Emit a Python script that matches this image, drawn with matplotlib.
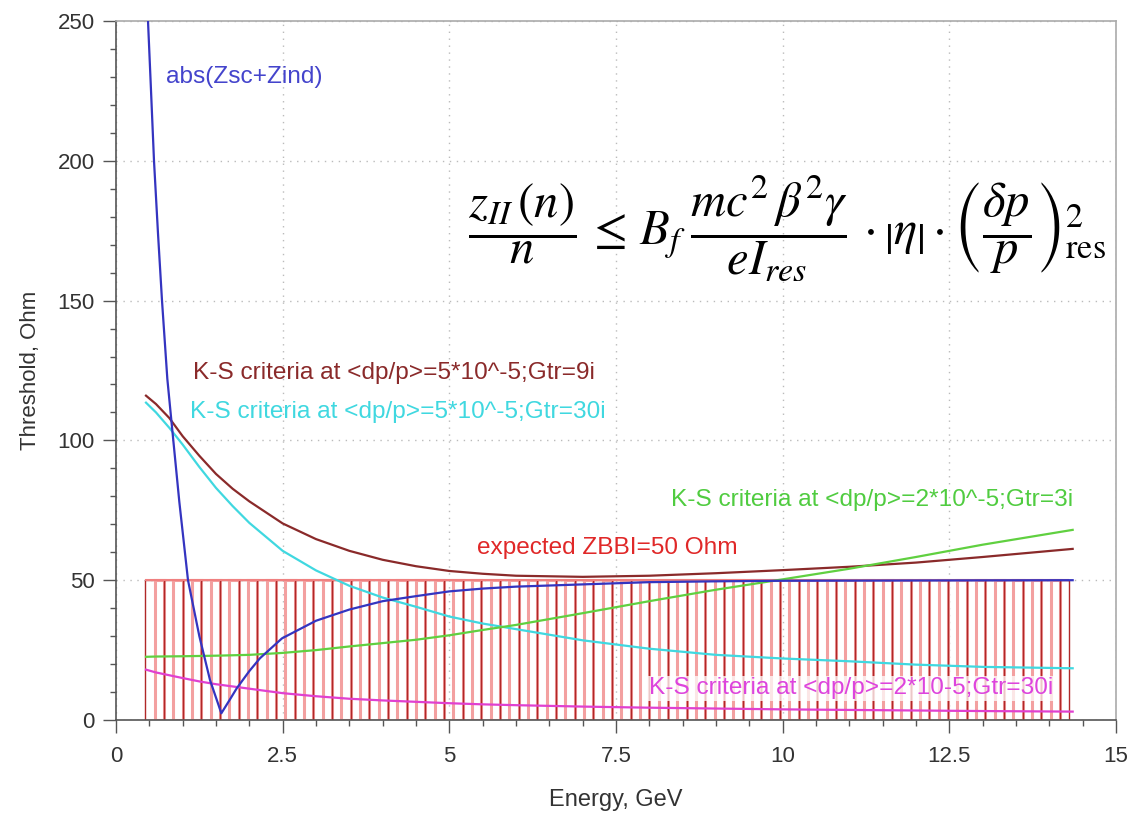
import numpy as np
import matplotlib
matplotlib.use("Agg")
import matplotlib.pyplot as plt

# ---------------- data ----------------
energy = [0.45, 0.6, 0.8, 1.0, 1.25, 1.5, 1.75, 2.0, 2.5, 3.0, 3.5, 4.0, 4.5,
          5.0, 5.5, 6.0, 7.0, 8.0, 9.0, 10.0, 11.0, 12.0, 13.0, 14.35]
ks_5e5_9i = [116, 113, 108, 101.5, 94.5, 88, 82.7, 78.2, 70.3, 64.7, 60.5, 57.3, 55,
             53.3, 52.3, 51.6, 51.2, 51.6, 52.5, 53.6, 54.8, 56.3, 58.3, 61.2]
ks_5e5_30i = [113.5, 110, 104.5, 98.5, 90.5, 83, 76.5, 70.5, 60.5, 53.5, 48, 43.8, 40.5,
              37, 34.5, 32.5, 28.5, 25.5, 23.3, 22.0, 21.0, 19.8, 19.0, 18.5]
ks_2e5_3i = [22.6, 22.7, 22.75, 22.8, 22.9, 23.0, 23.15, 23.3, 24.0, 25.0, 26.3, 27.5, 28.7,
             30.3, 32.2, 34.0, 38.2, 42.5, 46.6, 50.3, 54.1, 58.3, 62.7, 68.0]
ks_2e5_30i = [18.0, 17.0, 16.0, 15.0, 13.8, 12.8, 12.0, 11.2, 9.6, 8.5, 7.6, 7.0, 6.5,
              6.0, 5.6, 5.3, 4.8, 4.4, 4.1, 3.8, 3.6, 3.4, 3.2, 3.0]

energy_z = [0.45, 0.48, 0.52, 0.57, 0.63, 0.69, 0.77, 0.835, 0.95, 1.08, 1.25, 1.41,
            1.58, 1.7, 1.81, 2.0, 2.16, 2.49, 3.0, 3.5, 4.0, 4.5, 5.0, 5.5, 6.0,
            7.0, 8.0, 9.0, 10.0, 12.0, 14.35]
abs_zsc_zind = [272, 250, 228, 200, 174, 150, 122, 106, 78, 50, 30, 14.3,
                2.4, 7.0, 11.3, 17.5, 22.1, 29.2, 35.5, 39.5, 42.5, 44.3, 46.0, 47.0, 47.7,
                48.5, 49.3, 49.6, 49.8, 49.9, 50.0]

# expected broadband impedance: 99 bars of 50 Ohm from 0.44 to 14.3 GeV
bar_start, bar_stop, n_bars = 0.44, 14.30, 99
expected_zbbi = 50

x_ticks = [0, 2.5, 5, 7.5, 10, 12.5, 15]
x_tick_labels = ["0", "2.5", "5", "7.5", "10", "12.5", "15"]
y_ticks = [0, 50, 100, 150, 200, 250]
y_tick_labels = ["0", "50", "100", "150", "200", "250"]

# ---------------- plot ----------------
plt.rcParams['font.family'] = ['Liberation Sans', 'DejaVu Sans']
plt.rcParams['mathtext.fontset'] = 'stix'

fig = plt.figure(figsize=(11.29, 8.15), dpi=100)
ax = fig.add_axes([116/1129, 1 - 720/815, 1000/1129, 699/815])

ax.set_xlim(0, 15)
ax.set_ylim(0, 250)

# bars
edges = np.linspace(bar_start, bar_stop, n_bars + 1)
bar_left = edges[:-1]
width = edges[1] - edges[0]
edge_cols = ['#b02828' if i % 2 == 0 else '#f3a0a0' for i in range(n_bars)]
edge_lw = [1.0 if i % 2 == 0 else 2.2 for i in range(n_bars)]
ax.bar(bar_left, [expected_zbbi] * n_bars, width=width, align='edge', fill=False,
       edgecolor=edge_cols, linewidth=edge_lw, zorder=2)
ax.hlines(expected_zbbi, bar_start, bar_stop, colors='#f08080', linewidth=1.5, zorder=2)

# curves
ax.plot(energy, ks_5e5_9i, color='#8a2a2a', lw=1.6, zorder=3)
ax.plot(energy, ks_5e5_30i, color='#40d8e0', lw=1.6, zorder=3)
ax.plot(energy, ks_2e5_3i, color='#60d040', lw=1.6, zorder=3)
ax.plot(energy, ks_2e5_30i, color='#e040d0', lw=1.6, zorder=3)
ax.plot(energy_z, abs_zsc_zind, color='#3434c0', lw=1.6, zorder=4, clip_on=True)

# texts
fs = 17.6
ax.text(0.75, 230, "abs(Zsc+Zind)", color='#4444cc', fontsize=fs, va='center', ha='left')
ax.text(1.16, 124, "K-S criteria at <dp/p>=5*10^-5;Gtr=9i", color='#8a2a2a',
        fontsize=fs, va='center', ha='left')
ax.text(1.11, 110.3, "K-S criteria at <dp/p>=5*10^-5;Gtr=30i", color='#40d8e0',
        fontsize=fs, va='center', ha='left')
ax.text(8.33, 78.7, "K-S criteria at <dp/p>=2*10^-5;Gtr=3i", color='#50cc40',
        fontsize=fs, va='center', ha='left')
ax.text(5.42, 61.5, "expected ZBBI=50 Ohm", color='#e02828',
        fontsize=fs, va='center', ha='left')
ax.text(8.0, 11.4, "K-S criteria at <dp/p>=2*10-5;Gtr=30i", color='#dd44dd',
        fontsize=fs, va='center', ha='left', zorder=5,
        bbox=dict(facecolor='white', edgecolor='none', alpha=0.75, pad=1))

eq = (r'$\dfrac{z_{II}\,(n)}{n}\,\leq\, B_f\;\dfrac{mc^2\,\beta^2\gamma}{eI_{res}}'
      r'\,\cdot\left|\eta\right|\cdot\left(\dfrac{\delta p}{p}\right)^2_{\mathrm{res}}$')
ax.text(10.06, 176, eq, fontsize=35, ha='center', va='center', color='black', zorder=6)

# axes styling
ax.set_xticks(x_ticks)
ax.set_xticklabels(x_tick_labels)
ax.set_yticks(y_ticks)
ax.set_yticklabels(y_tick_labels)
ax.set_xticks(np.arange(0, 15.01, 0.5), minor=True)
ax.set_yticks(np.arange(0, 250.1, 10), minor=True)
ax.tick_params(which='major', direction='out', length=9.4, width=1, color='#555555',
               labelsize=16, labelcolor='#333333', pad=6)
ax.tick_params(which='minor', direction='out', length=4.5, width=1, color='#555555')
ax.tick_params(axis='x', which='major', pad=9)

ax.grid(True, which='major', linestyle=(0, (1, 4)), color='#bbbbbb', linewidth=1.0, zorder=0)
ax.set_axisbelow(True)

for s in ['left', 'bottom']:
    ax.spines[s].set_color('#555555')
    ax.spines[s].set_linewidth(1.2)
for s in ['top', 'right']:
    ax.spines[s].set_color('#aaaaaa')
    ax.spines[s].set_linewidth(1.2)

ax.set_xlabel("Energy, GeV", fontsize=17, color='#333333', labelpad=16)
ax.set_ylabel("Threshold, Ohm", fontsize=16, color='#333333', labelpad=12)

fig.savefig("out.png", dpi=100)
